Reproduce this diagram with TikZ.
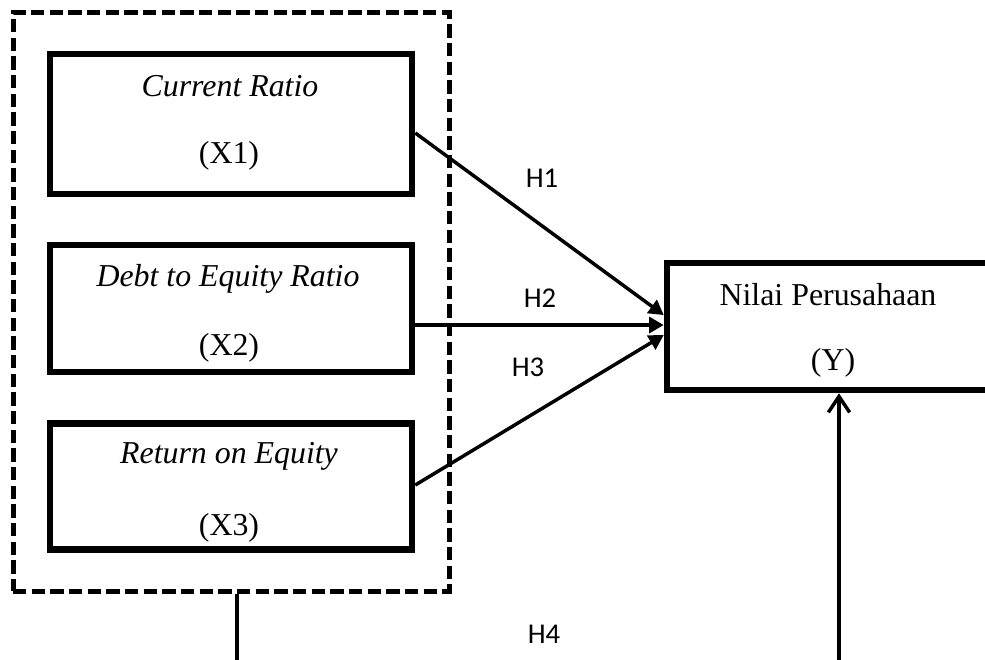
\documentclass[tikz,border=0pt]{standalone}
\usepackage{fontspec}
\setmainfont{Liberation Serif}
\newfontfamily\hfont{Carlito}
\usetikzlibrary{arrows.meta,calc}
\begin{document}
\begin{tikzpicture}[x=0.75pt,y=-0.75pt,
  box/.style={draw,line width=4.9pt,inner sep=0pt,minimum width=271.5pt},
  grpbox/.style={draw,line width=3.75pt,dash pattern=on 10pt off 4pt,inner sep=0pt},
  lbl/.style={font=\fontsize{23.9}{28}\selectfont,anchor=base,inner sep=0pt},
  hl/.style={font=\hfont\fontsize{21.5}{25}\selectfont,anchor=base,inner sep=0pt},
  conn/.style={line width=2.6pt,-{Triangle[length=11pt,width=12pt]}},
  plain/.style={line width=2.6pt},
  ]
\useasboundingbox (0,0) rectangle (985,660);
\clip (0,0) rectangle (985,660);
\node[grpbox,minimum width=327pt,minimum height=433.5pt] (grp) at (231,302) {};
\node[box,minimum height=105pt] (x1) at (231,124) {};
\node[box,minimum height=95.25pt] (x2) at (231,308.5) {};
\node[box,minimum height=94.5pt] (x3) at (231,486.5) {};
\node[box,minimum width=244.5pt,minimum height=95.25pt] (yv) at (830,326.5) {};
\node[lbl] (t1a) at (230,97) {\textit{Current Ratio}};
\node[lbl] (t1b) at (229,163) {(X1)};
\node[lbl] (t2a) at (228,286) {\textit{Debt to Equity Ratio}};
\node[lbl] (t2b) at (229,355) {(X2)};
\node[lbl] (t3a) at (229,463) {\textit{Return on Equity}};
\node[lbl] (t3b) at (229,535) {(X3)};
\node[lbl] (tya) at (828,305) {Nilai Perusahaan};
\node[lbl] (tyb) at (833,370) {(Y)};
\node[hl] (h1) at (542,187) {H1};
\node[hl] (h2) at (540,307) {H2};
\node[hl] (h3) at (528,376) {H3};
\node[hl] (h4) at (544,643) {H4};
\draw[conn] ([yshift=-6.75pt]x1.east) -- ([yshift=8.6pt]yv.west);
\draw[conn] ([yshift=-12.4pt]x2.east) -- ([yshift=1.1pt]yv.west);
\draw[conn] ([yshift=1.1pt]x3.east) -- ([yshift=-6.4pt]yv.west);
\coordinate (lb) at (237,660);
\coordinate (rb) at (839,660);
\draw[plain] (grp.south -| lb) -- (lb);
\draw[plain,-{Straight Barb[length=12pt,width=16pt]}] (rb) -- (rb |- yv.south);
\end{tikzpicture}
\end{document}
